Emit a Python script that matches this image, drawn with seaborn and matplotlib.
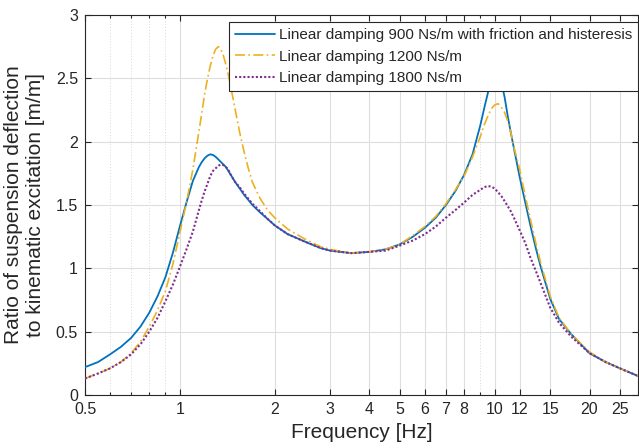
import matplotlib
matplotlib.use("Agg")
import matplotlib.pyplot as plt
import matplotlib.ticker as mticker
import seaborn as sns
import pandas as pd

freq = [0.5, 0.55, 0.6, 0.65, 0.7, 0.75, 0.8, 0.85, 0.9, 0.95, 1.0, 1.05, 1.1, 1.15,
        1.175, 1.2, 1.225, 1.25, 1.275, 1.3, 1.325, 1.35, 1.375, 1.4, 1.425, 1.45,
        1.5, 1.55, 1.6, 1.65, 1.7, 1.8, 1.9, 2.0,
        2.2, 2.5, 2.8, 3.0, 3.5, 4.0, 4.5, 5.0, 5.5, 6.0, 6.5, 7.0, 7.5, 8.0, 8.5, 9.0,
        9.25, 9.5, 9.75, 10.0, 10.25, 10.5, 10.75, 11.0, 11.25, 11.5,
        12.0, 12.5, 13.0, 13.5, 14.0, 15.0, 16.0, 17.5, 20.0, 22.5, 25.0, 28.5]

blue_900_friction = [0.22, 0.26, 0.32, 0.38, 0.45, 0.54, 0.65, 0.78, 0.93, 1.12, 1.33, 1.52, 1.69, 1.80,
                     1.84, 1.87, 1.89, 1.90, 1.895, 1.88, 1.86, 1.84, 1.82, 1.80, 1.77, 1.74,
                     1.68, 1.63, 1.58, 1.54, 1.50, 1.44, 1.39, 1.34,
                     1.27, 1.21, 1.16, 1.14, 1.12, 1.13, 1.15, 1.19, 1.25, 1.32, 1.40, 1.50, 1.61, 1.74, 1.90, 2.13,
                     2.26, 2.38, 2.50, 2.56, 2.57, 2.47, 2.35, 2.20, 2.07, 1.95,
                     1.72, 1.52, 1.33, 1.16, 1.01, 0.76, 0.60, 0.48, 0.33, 0.26, 0.21, 0.15]

orange_1200 = [0.13, 0.17, 0.21, 0.26, 0.33, 0.42, 0.54, 0.67, 0.82, 1.03, 1.28, 1.52, 1.78, 2.08,
               2.23, 2.38, 2.50, 2.60, 2.68, 2.73, 2.75, 2.73, 2.68, 2.61, 2.53, 2.44,
               2.25, 2.07, 1.92, 1.79, 1.68, 1.55, 1.46, 1.40,
               1.31, 1.23, 1.17, 1.15, 1.12, 1.13, 1.15, 1.19, 1.26, 1.33, 1.41, 1.51, 1.62, 1.73, 1.88, 2.04,
               2.13, 2.20, 2.26, 2.29, 2.30, 2.27, 2.23, 2.16, 2.07, 1.96,
               1.78, 1.57, 1.38, 1.20, 1.04, 0.78, 0.61, 0.48, 0.34, 0.26, 0.21, 0.15]

purple_1800 = [0.13, 0.17, 0.21, 0.26, 0.32, 0.40, 0.50, 0.61, 0.74, 0.87, 1.01, 1.15, 1.29, 1.46,
               1.54, 1.61, 1.67, 1.73, 1.77, 1.79, 1.81, 1.82, 1.815, 1.80, 1.78, 1.74,
               1.68, 1.64, 1.59, 1.55, 1.51, 1.45, 1.39, 1.34,
               1.27, 1.21, 1.16, 1.14, 1.12, 1.13, 1.14, 1.18, 1.22, 1.27, 1.33, 1.40, 1.46, 1.52, 1.58, 1.62,
               1.64, 1.65, 1.645, 1.63, 1.60, 1.57, 1.53, 1.49, 1.45, 1.40,
               1.30, 1.20, 1.08, 0.98, 0.88, 0.69, 0.57, 0.46, 0.33, 0.26, 0.21, 0.15]

labels = ["Linear damping 900 Ns/m with friction and histeresis",
          "Linear damping 1200 Ns/m",
          "Linear damping 1800 Ns/m"]

xticks = [0.5, 1, 2, 3, 4, 5, 6, 7, 8, 10, 12, 15, 20, 25]
xticklabels = ["0.5", "1", "2", "3", "4", "5", "6", "7", "8", "10", "12", "15", "20", "25"]
xminor = [0.6, 0.7, 0.8, 0.9, 9]
yticks = [0, 0.5, 1, 1.5, 2, 2.5, 3]
yticklabels = ["0", "0.5", "1", "1.5", "2", "2.5", "3"]

sns.set_style("ticks")
plt.rcParams["font.family"] = ["Liberation Sans", "DejaVu Sans"]

fig = plt.figure(figsize=(6.39, 4.48), dpi=100)
ax = fig.add_axes([85 / 639, 1 - 395 / 448, (638 - 85) / 639, (395 - 15) / 448])

df = pd.DataFrame({"f": freq, "b": blue_900_friction, "o": orange_1200, "p": purple_1800})

sns.lineplot(data=df, x="f", y="b", ax=ax, color="#0072BD", lw=1.3, label=labels[0], zorder=3)
sns.lineplot(data=df, x="f", y="o", ax=ax, color="#EDB120", lw=1.2, label=labels[1],
             linestyle=(0, (6, 2, 1, 2)), zorder=3)
sns.lineplot(data=df, x="f", y="p", ax=ax, color="#7E2F8E", lw=1.5, label=labels[2],
             linestyle=(0, (1, 1)), zorder=3)

ax.set_xscale("log")
ax.set_xlim(0.5, 28.5)
ax.set_ylim(0, 3)
ax.xaxis.set_major_locator(mticker.FixedLocator(xticks))
ax.xaxis.set_major_formatter(mticker.FixedFormatter(xticklabels))
ax.xaxis.set_minor_locator(mticker.FixedLocator(xminor))
ax.xaxis.set_minor_formatter(mticker.NullFormatter())
ax.set_yticks(yticks)
ax.set_yticklabels(yticklabels)

ax.grid(True, which="major", color="#dedede", lw=0.8, ls="-")
ax.grid(True, which="minor", axis="x", color="#d8d8d8", lw=0.7, ls=(0, (1, 2)))
ax.set_axisbelow(True)

for s in ax.spines.values():
    s.set_visible(True)
    s.set_color("#262626")
    s.set_linewidth(0.8)
ax.tick_params(which="both", direction="in", top=True, right=True, colors="#262626",
               labelsize=11.5, width=0.8)
ax.tick_params(which="major", length=4.5, pad=5)
ax.tick_params(which="minor", length=2.5)

ax.set_xlabel("Frequency [Hz]", fontsize=15, color="#262626", labelpad=4)
ax.set_ylabel("Ratio of suspension deflection\nto kinematic excitation [m/m]",
              fontsize=15, color="#262626", labelpad=8)

leg = ax.legend(loc="upper right", bbox_to_anchor=(1.0, 1 - 7 / 380), borderaxespad=0,
                fontsize=11, frameon=True, fancybox=False, framealpha=1,
                edgecolor="#262626", handlelength=2.6, handletextpad=0.25,
                labelspacing=0.5, borderpad=0.4)
leg.get_frame().set_linewidth(0.8)
leg.set_zorder(5)

fig.savefig("out.png", dpi=100)
